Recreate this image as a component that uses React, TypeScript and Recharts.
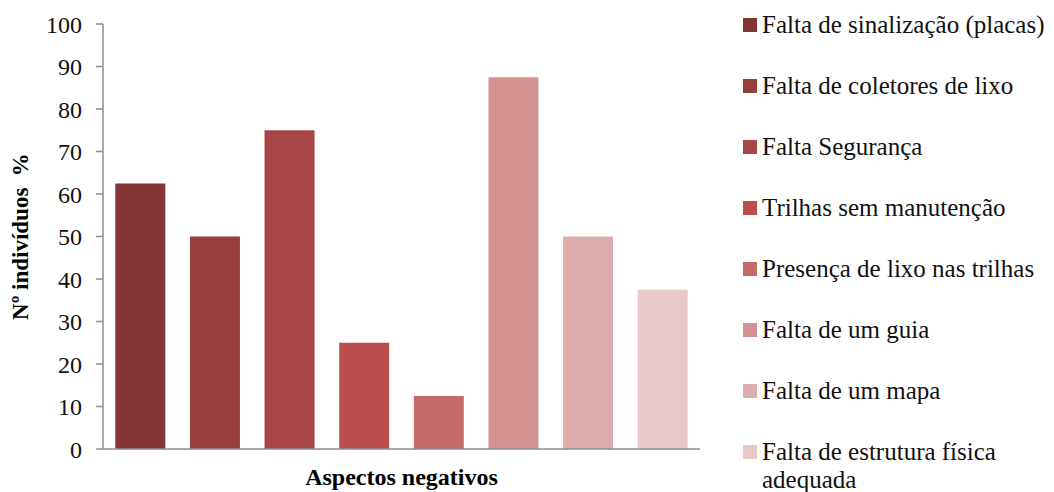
import React from 'react';
import { BarChart, Bar, XAxis, YAxis, Cell, Label } from 'recharts';

const categories = [
  'Falta de sinalização (placas)',
  'Falta de coletores de lixo',
  'Falta Segurança',
  'Trilhas sem manutenção',
  'Presença de lixo nas trilhas',
  'Falta de um guia',
  'Falta de um mapa',
  'Falta de estrutura física adequada',
];
const percentages = [62.5, 50, 75, 25, 12.5, 87.5, 50, 37.5];
const colors = ['#843534', '#973f3d', '#a84645', '#b94e4c', '#c46a69', '#d39392', '#ddadae', '#e8c8c9'];
const yTicks = [0, 10, 20, 30, 40, 50, 60, 70, 80, 90, 100];
// legend text, split where the reference wraps it
const legendLines: string[][] = [
  ['Falta de sinalização (placas)'],
  ['Falta de coletores de lixo'],
  ['Falta Segurança'],
  ['Trilhas sem manutenção'],
  ['Presença de lixo nas trilhas'],
  ['Falta de um guia'],
  ['Falta de um mapa'],
  ['Falta de estrutura física', 'adequada'],
];

const data = categories.map((name, i) => ({ name, value: percentages[i] }));

const serif = "'Liberation Serif', 'DejaVu Serif', 'Noto Serif', 'Times New Roman', Times, serif";

const YTitle = (props: any) => {
  const { viewBox } = props;
  const cy = viewBox.y + viewBox.height / 2;
  const cx = 28;
  return (
    <text
      x={cx}
      y={cy}
      transform={`rotate(-90, ${cx}, ${cy})`}
      textAnchor="middle"
      fontFamily={serif}
      fontWeight="bold"
      fontSize={23}
      fill="#000"
      style={{ whiteSpace: 'pre' }}
    >
      {'Nº indivíduos  %'}
    </text>
  );
};

const XTitle = (props: any) => {
  const { viewBox } = props;
  return (
    <text
      x={viewBox.x + viewBox.width / 2}
      y={485}
      textAnchor="middle"
      fontFamily={serif}
      fontWeight="bold"
      fontSize={24}
      fill="#000"
    >
      Aspectos negativos
    </text>
  );
};

export default function App() {
  return (
    <div style={{ position: 'absolute', left: 0, top: 0, width: 1054, height: 492, background: '#fff' }}>
      <BarChart
        width={1054}
        height={492}
        data={data}
        margin={{ top: 24, right: 354, bottom: 0, left: 0 }}
        barCategoryGap="16.5%"
      >
        <XAxis
          dataKey="name"
          tick={false}
          tickLine={false}
          height={43}
          axisLine={{ stroke: '#8c8c8c', strokeWidth: 1.5 }}
        >
          <Label content={<XTitle />} />
        </XAxis>
        <YAxis
          width={103}
          domain={[0, 100]}
          ticks={yTicks}
          interval={0}
          tickSize={7}
          tickMargin={14}
          axisLine={{ stroke: '#8c8c8c', strokeWidth: 1.5 }}
          tickLine={{ stroke: '#8c8c8c', strokeWidth: 1.5 }}
          tick={{ fontFamily: serif, fontSize: 24, fill: '#111' }}
        >
          <Label content={<YTitle />} />
        </YAxis>
        <Bar dataKey="value" isAnimationActive={false}>
          {data.map((d, i) => (
            <Cell key={d.name} fill={colors[i]} />
          ))}
        </Bar>
      </BarChart>
      <div style={{ position: 'absolute', left: 743, top: 0, fontFamily: serif, fontSize: 25, color: '#111' }}>
        {legendLines.map((lines, i) => (
          <div
            key={i}
            style={{ position: 'absolute', left: 0, top: 11 + i * 61, whiteSpace: 'nowrap', lineHeight: '28px' }}
          >
            <span
              style={{
                position: 'absolute',
                left: 0,
                top: 7,
                width: 14,
                height: 14,
                background: colors[i],
              }}
            />
            <div style={{ marginLeft: 19 }}>
              {lines.map((l) => (
                <div key={l}>{l}</div>
              ))}
            </div>
          </div>
        ))}
      </div>
    </div>
  );
}
